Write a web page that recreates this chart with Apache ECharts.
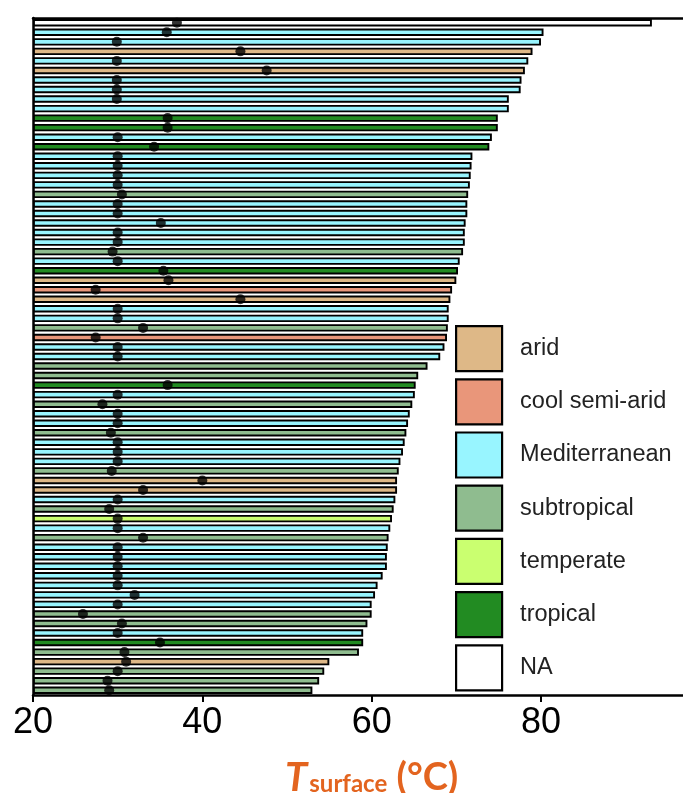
<!DOCTYPE html>
<html>
<head>
<meta charset="utf-8">
<script src="https://cdn.jsdelivr.net/npm/echarts@6/dist/echarts.min.js"></script>
<style>html,body{margin:0;padding:0;background:#fff}#c{width:683px;height:793px}</style>
</head>
<body>
<div id="c"></div>
<script>
// Climate categories (legend order) and colours
const climateNames = ['arid', 'cool semi-arid', 'Mediterranean', 'subtropical', 'temperate', 'tropical', 'NA'];
const climateColors = ['#DEB887', '#E9967A', '#98F5FF', '#8FBC8F', '#CAFF70', '#228B22', '#FFFFFF'];

// One entry per row, top to bottom
const rowClimate = [
  'NA','Mediterranean','Mediterranean','arid','Mediterranean','arid','Mediterranean','Mediterranean','Mediterranean','Mediterranean',
  'tropical','tropical','Mediterranean','tropical','Mediterranean','Mediterranean','Mediterranean','Mediterranean','subtropical','Mediterranean',
  'Mediterranean','Mediterranean','Mediterranean','Mediterranean','subtropical','Mediterranean','tropical','arid','cool semi-arid','arid',
  'Mediterranean','Mediterranean','subtropical','cool semi-arid','Mediterranean','Mediterranean','subtropical','subtropical','tropical','Mediterranean',
  'subtropical','Mediterranean','Mediterranean','subtropical','Mediterranean','Mediterranean','Mediterranean','subtropical','arid','arid',
  'Mediterranean','subtropical','temperate','Mediterranean','subtropical','Mediterranean','Mediterranean','Mediterranean','Mediterranean','Mediterranean',
  'Mediterranean','Mediterranean','subtropical','subtropical','Mediterranean','tropical','subtropical','arid','subtropical','subtropical',
  'subtropical'
];

// Maximum surface temperature (bar end), °C
const tMax = [
  93.1, 80.3, 80.0, 79.0, 78.5, 78.1, 77.7, 77.6, 76.2, 76.2,
  74.9, 74.9, 74.2, 73.9, 71.9, 71.8, 71.7, 71.6, 71.4, 71.3,
  71.3, 71.1, 71.0, 71.0, 70.8, 70.4, 70.2, 70.0, 69.5, 69.3,
  69.1, 69.1, 69.0, 68.9, 68.6, 68.1, 66.6, 65.5, 65.2, 65.1,
  64.8, 64.5, 64.3, 64.1, 63.9, 63.7, 63.4, 63.2, 63.0, 63.0,
  62.8, 62.6, 62.4, 62.2, 62.0, 61.9, 61.8, 61.8, 61.3, 60.7,
  60.4, 60.0, 60.0, 59.5, 59.0, 59.0, 58.5, 55.0, 54.4, 53.8,
  53.0
];

// Dot values (°C); null = no dot
const tDot = [
  37.0, 35.8, 29.9, 44.5, 29.9, 47.6, 29.9, 29.9, 29.9, null,
  35.9, 35.9, 30.0, 34.3, 30.0, 30.0, 30.0, 30.0, 30.5, 30.0,
  30.0, 35.1, 30.0, 30.0, 29.4, 30.0, 35.4, 36.0, 27.4, 44.5,
  30.0, 30.0, 33.0, 27.4, 30.0, 30.0, null, null, 35.9, 30.0,
  28.2, 30.0, 30.0, 29.2, 30.0, 30.0, 30.0, 29.3, 40.0, 33.0,
  30.0, 29.0, 30.0, 30.0, 33.0, 30.0, 30.0, 30.0, 30.0, 30.0,
  32.0, 30.0, 25.9, 30.5, 30.0, 35.0, 30.8, 31.0, 30.0, 28.8,
  29.0
];

const xTicks = [20, 40, 60, 80];

const rowIds = rowClimate.map((_, i) => 'r' + (i + 1));

const barSeries = climateNames.map((name, k) => ({
  name: name,
  type: 'bar',
  data: rowClimate.map((c, i) => c === name ? tMax[i] : '-'),
  barWidth: 7.4,
  barGap: '-100%',
  itemStyle: { color: climateColors[k], borderColor: '#000', borderWidth: 1.9 },
  emphasis: { disabled: true },
  z: 2
}));

const dotSeries = {
  name: 'dots',
  type: 'scatter',
  data: tDot.map((d, i) => d == null ? null : [d, rowIds[i]]).filter(Boolean),
  symbol: 'circle',
  symbolSize: 10,
  itemStyle: { color: '#000' },
  z: 5
};

const chart = echarts.init(document.getElementById('c'), null, { renderer: 'canvas' });
chart.setOption({
  animation: false,
  backgroundColor: '#fff',
  grid: { left: 33, right: -27.3, top: 18, bottom: 98, containLabel: false, outerBoundsMode: 'none' },
  legend: {
    data: climateNames,
    orient: 'vertical',
    left: 455,
    top: 325,
    padding: 0,
    itemWidth: 46,
    itemHeight: 45,
    itemGap: 6,
    icon: 'rect',
    itemStyle: { borderColor: '#000', borderWidth: 2.2 },
    selectedMode: false,
    textStyle: { fontFamily: 'Liberation Sans, Arial', fontSize: 23.5, color: '#222', padding: [0, 0, 0, 13] }
  },
  xAxis: [{
    type: 'value',
    position: 'bottom',
    min: 20,
    max: 100,
    interval: 20,
    startValue: 20,
    axisLine: { show: true, onZero: false, lineStyle: { color: '#000', width: 2.5 } },
    axisTick: { show: true, length: 7, lineStyle: { color: '#000', width: 2 },
      customValues: xTicks },
    axisLabel: { fontFamily: 'Liberation Sans, Arial', fontSize: 36, color: '#000', margin: 10,
      customValues: xTicks },
    splitLine: { show: false },
    name: '{T|T}{s|surface}{p| (°C)}',
    nameLocation: 'middle',
    nameGap: 63,
    nameTextStyle: {
      rich: {
        T: { fontFamily: 'Lato', fontSize: 40, fontWeight: 'bold', fontStyle: 'italic', color: '#E3641F' },
        s: { fontFamily: 'Lato', fontSize: 24, fontWeight: 'bold', color: '#E3641F', padding: [12, 0, 0, 2] },
        p: { fontFamily: 'Lato', fontSize: 38, fontWeight: 'bold', color: '#E3641F' }
      }
    }
  }, {
    type: 'value',
    position: 'top',
    min: 20,
    max: 100,
    axisLine: { show: true, onZero: false, lineStyle: { color: '#000', width: 2.5 } },
    axisTick: { show: false },
    axisLabel: { show: false },
    splitLine: { show: false }
  }],
  yAxis: {
    type: 'category',
    data: rowIds,
    inverse: true,
    axisLine: { show: true, onZero: false, lineStyle: { color: '#000', width: 2.5 } },
    axisTick: { show: false },
    axisLabel: { show: false },
    splitLine: { show: false }
  },
  series: barSeries.concat([dotSeries])
});
</script>
</body>
</html>
